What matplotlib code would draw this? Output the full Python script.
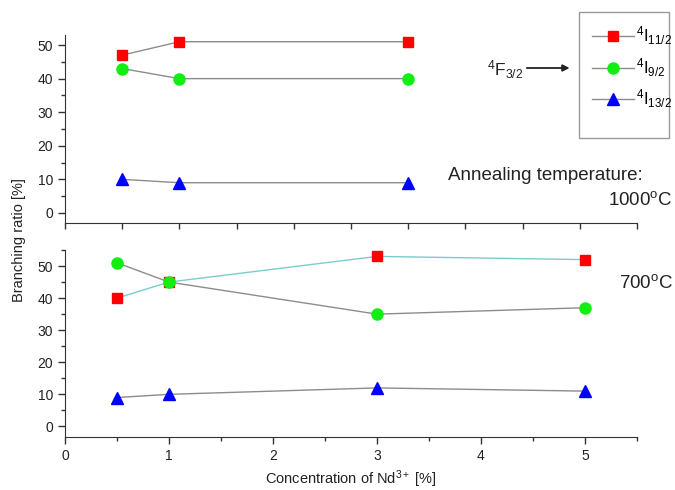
import matplotlib.pyplot as plt
from matplotlib.lines import Line2D
from matplotlib.patches import Rectangle

plt.rcParams['font.family'] = ['Liberation Sans', 'DejaVu Sans']
plt.rcParams['mathtext.fontset'] = 'custom'
plt.rcParams['mathtext.rm'] = 'Liberation Sans'
plt.rcParams['mathtext.it'] = 'Liberation Sans'
plt.rcParams['mathtext.default'] = 'regular'

# 1000 C annealing (upper panel)
x_1000 = [0.5, 1, 3]
i11_1000 = [47, 51, 51]
i9_1000 = [43, 40, 40]
i13_1000 = [10, 9, 9]

# 700 C annealing (lower panel)
x_700 = [0.5, 1, 3, 5]
i11_700 = [40, 45, 53, 52]
i9_700 = [51, 45, 35, 37]
i13_700 = [9, 10, 12, 11]

labels = [r'$^{4}$I$_{11/2}$', r'$^{4}$I$_{9/2}$', r'$^{4}$I$_{13/2}$']

RED = '#ff0000'
GREEN = '#11ee11'
BLUE = '#0000ff'
GRAY = '#8c8c8c'
TEAL = '#7ccccc'

fig = plt.figure(figsize=(6.75, 4.9), dpi=100)
ax1 = fig.add_axes([0.0963, 0.5449, 0.8474, 0.3837])
ax2 = fig.add_axes([0.0963, 0.1082, 0.8474, 0.3816])

ms = dict(sq=7, ci=8, tr=8.5)

# upper panel
ax1.plot(x_1000, i11_1000, color=GRAY, lw=1, marker='s', ms=ms['sq'], mfc=RED, mec=RED)
ax1.plot(x_1000, i9_1000, color=GRAY, lw=1, marker='o', ms=ms['ci'], mfc=GREEN, mec=GREEN)
ax1.plot(x_1000, i13_1000, color=GRAY, lw=1, marker='^', ms=ms['tr'], mfc=BLUE, mec=BLUE)
ax1.set_xlim(0, 5)
ax1.set_ylim(-3, 53)
ax1.set_xticks([i * 0.5 for i in range(11)])
ax1.set_xticklabels([])
ax1.set_yticks([0, 10, 20, 30, 40, 50])
ax1.set_yticks([5, 15, 25, 35, 45], minor=True)

# lower panel
ax2.plot(x_700, i11_700, color=TEAL, lw=1, marker='s', ms=ms['sq'], mfc=RED, mec=RED)
ax2.plot(x_700, i9_700, color=GRAY, lw=1, marker='o', ms=ms['ci'], mfc=GREEN, mec=GREEN)
ax2.plot(x_700, i13_700, color=GRAY, lw=1, marker='^', ms=ms['tr'], mfc=BLUE, mec=BLUE)
ax2.set_xlim(0, 5.5)
ax2.set_ylim(-3.3, 55)
ax2.set_xticks([0, 1, 2, 3, 4, 5])
ax2.set_xticks([0.5, 1.5, 2.5, 3.5, 4.5, 5.5], minor=True)
ax2.set_yticks([0, 10, 20, 30, 40, 50])
ax2.set_yticks([5, 15, 25, 35, 45, 55], minor=True)
ax2.set_xlabel(r'Concentration of Nd$^{3+}$ [%]', fontsize=10.5, color='#222222')

for ax in (ax1, ax2):
    ax.spines['top'].set_visible(False)
    ax.spines['right'].set_visible(False)
    for s in ('left', 'bottom'):
        ax.spines[s].set_color('#333333')
    ax.tick_params(which='major', length=5, width=1, color='#333333', labelsize=10,
                   labelcolor='#222222')
    ax.tick_params(which='minor', length=3, width=1, color='#333333')
ax1.tick_params(axis='x', which='major', length=4)

fig.text(0.028, 0.51, 'Branching ratio [%]', rotation=90, ha='center', va='center',
         fontsize=10.5, color='#222222')

# legend box
handles = [
    Line2D([], [], color=GRAY, lw=1, marker='s', ms=ms['sq'], mfc=RED, mec=RED),
    Line2D([], [], color=GRAY, lw=1, marker='o', ms=ms['ci'], mfc=GREEN, mec=GREEN),
    Line2D([], [], color=GRAY, lw=1, marker='^', ms=ms['tr'], mfc=BLUE, mec=BLUE),
]
fig.add_artist(Rectangle((579 / 675, 1 - 138 / 490), 90 / 675, 126 / 490,
                         transform=fig.transFigure, fill=False, ec='#999999', lw=1))
fig.legend(handles, labels, loc='upper left', bbox_to_anchor=(584 / 675, 1 - 16 / 490),
           frameon=False, fontsize=12, handlelength=2.5, handletextpad=0.15,
           labelspacing=0.55, borderpad=0, prop={'size': 12})

fig.text(487 / 675, 1 - 70 / 490, r'$^{4}$F$_{3/2}$', fontsize=12.5, va='center',
         color='#222222')
fig.add_artist(plt.annotate('', xy=(572 / 675, 1 - 68 / 490), xytext=(524 / 675, 1 - 68 / 490),
                            xycoords='figure fraction', textcoords='figure fraction',
                            arrowprops=dict(arrowstyle='-|>', color='#222222', lw=1,
                                            mutation_scale=10)))

fig.text(643 / 675, 1 - 176 / 490, 'Annealing temperature:', ha='right', va='center',
         fontsize=13.5, color='#222222')
fig.text(673 / 675, 1 - 200 / 490, r'1000$^{o}$C', ha='right', va='center',
         fontsize=13.5, color='#222222')
fig.text(673 / 675, 1 - 283 / 490, r'700$^{o}$C', ha='right', va='center',
         fontsize=13.5, color='#222222')

fig.savefig('out.png', dpi=100)
